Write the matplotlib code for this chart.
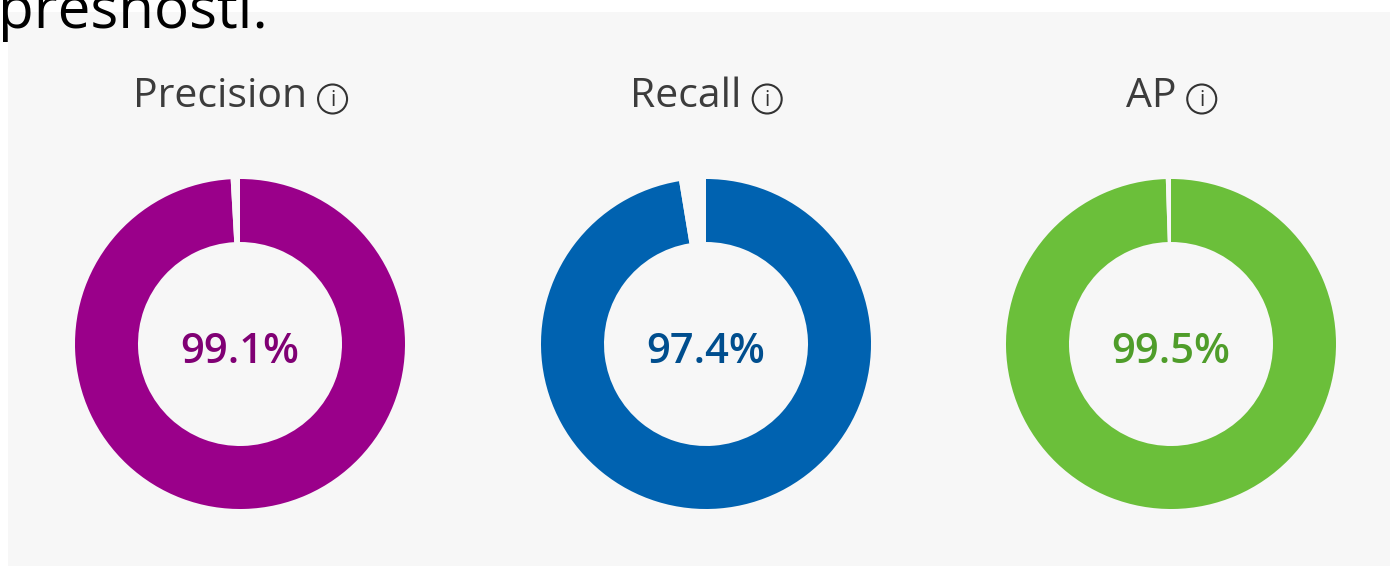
import numpy as np
import matplotlib
matplotlib.use("Agg")
import matplotlib.pyplot as plt
from matplotlib.patches import Rectangle, Circle

# metric data
metrics = ["Precision", "Recall", "AP"]
values = [99.1, 97.4, 99.5]
ring_colors = ["#9a008a", "#0062b0", "#6bbf3a"]
text_colors = ["#800074", "#004e8e", "#4f9d2a"]
caption = "presnosti."

W, H = 1390, 566
BG = "#f7f7f7"

fig = plt.figure(figsize=(W / 100, H / 100), dpi=100)
fig.patch.set_facecolor("white")
ax = fig.add_axes([0, 0, 1, 1])
ax.set_xlim(0, W)
ax.set_ylim(0, H)
ax.set_aspect("equal")
ax.axis("off")

def py(y):
    # pixel row from the top -> data y
    return H - y

# grey panel
ax.add_patch(Rectangle((8, 0), W - 8, py(12), facecolor=BG, edgecolor="none", zorder=0))

# caption cut off at the top left, as in the screenshot
ax.text(-2, py(28), caption, fontsize=42, family="Open Sans", color="black",
        ha="left", va="baseline", zorder=3)

centers_x = [240, 706, 1171]
cy = py(344)
r_out, ring_w = 165, 63

fig.canvas.draw()
renderer = fig.canvas.get_renderer()

#### draw the three donuts
for i in range(len(metrics)):
    cx = centers_x[i]
    v = values[i]
    ax.pie([v, 100 - v], colors=[ring_colors[i], BG], startangle=90, counterclock=False,
           center=(cx, cy), radius=r_out, frame=True,
           wedgeprops=dict(width=ring_w, edgecolor="none", linewidth=0))
    ax.text(cx, py(363), "%.1f%%" % v, fontsize=30, family="Open Sans", weight="semibold",
            color=text_colors[i], ha="center", va="baseline", zorder=4)

    # title + info icon, centred as one group
    t = ax.text(0, py(107), metrics[i], fontsize=29.5, family="Open Sans", color="#3c3c3c",
                ha="left", va="baseline", zorder=4)
    bb = t.get_window_extent(renderer=renderer)
    tw = bb.width
    gap, icon_r = 11, 14.5
    total = tw + gap + 2 * icon_r
    x0 = cx - total / 2
    t.set_x(x0)
    icx = x0 + tw + gap + icon_r
    icy = py(99)
    ax.add_patch(Circle((icx, icy), icon_r, facecolor="none", edgecolor="#333333",
                        linewidth=1.5, zorder=4))
    ax.text(icx, icy - 1, "i", fontsize=15, family="Open Sans", color="#333333",
            ha="center", va="center", zorder=5)

ax.set_xlim(0, W)
ax.set_ylim(0, H)
ax.set_aspect("equal")
ax.axis("off")

fig.savefig("out.png", dpi=100, facecolor=fig.get_facecolor())
